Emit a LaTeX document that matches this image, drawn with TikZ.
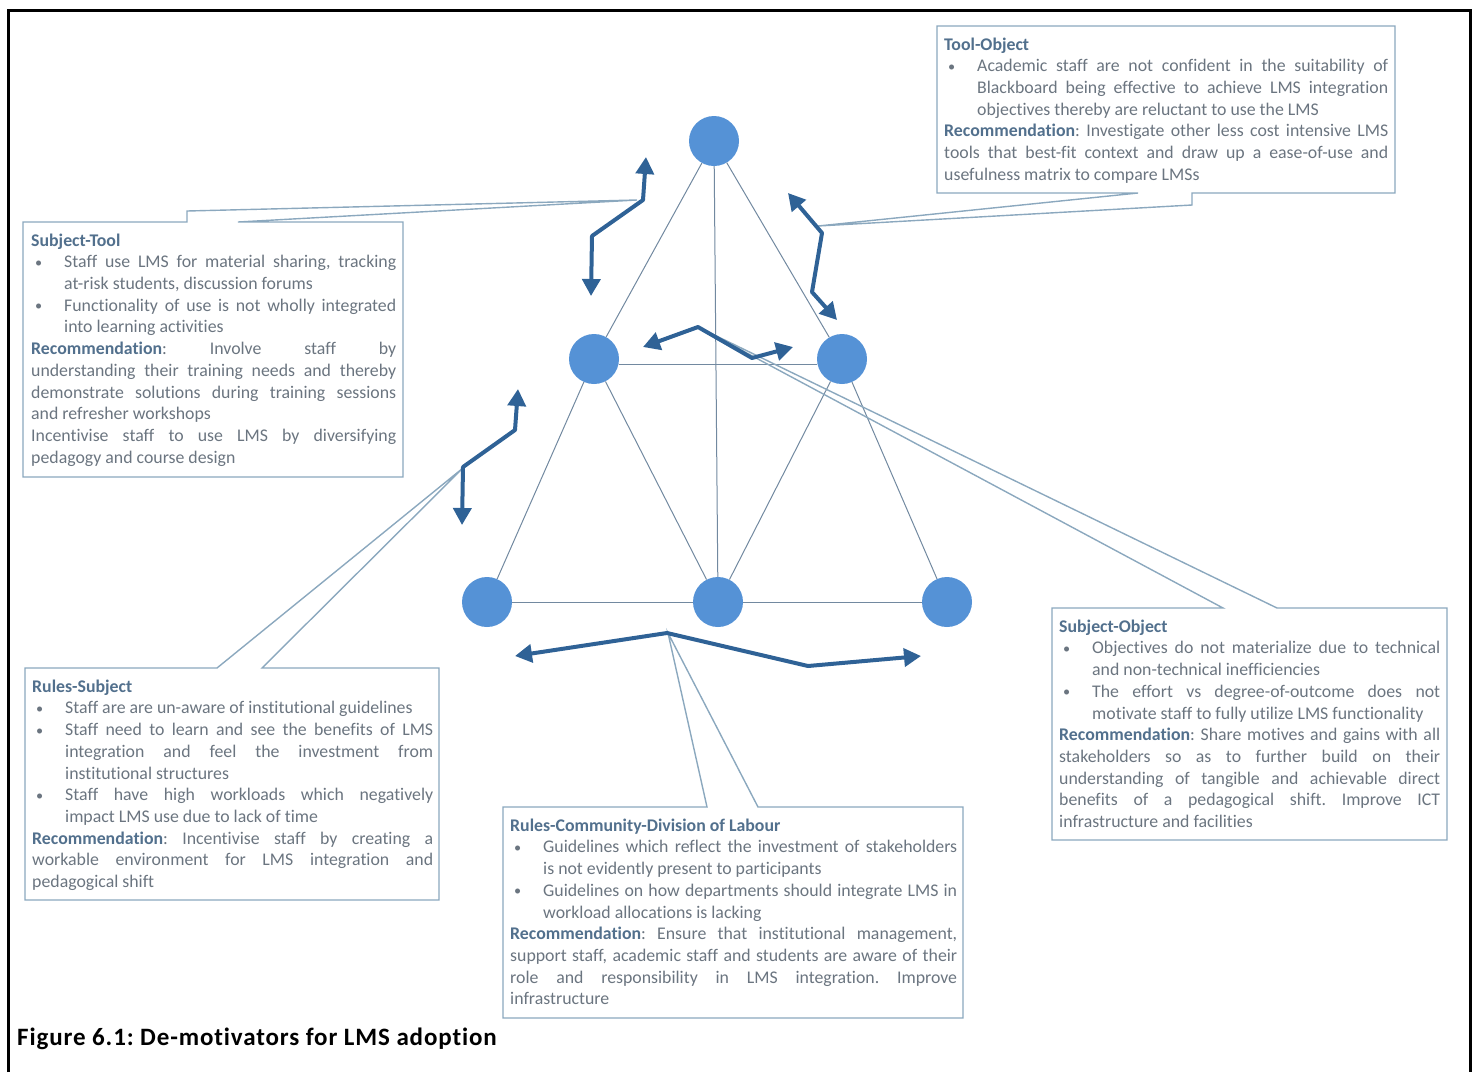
\documentclass[tikz,border=0pt]{standalone}
\usepackage{fontspec}
\setmainfont[Ligatures=NoCommon]{Carlito}
\usetikzlibrary{arrows.meta,calc}

\definecolor{dotblue}{HTML}{5592D6}
\definecolor{arrowblue}{HTML}{2F6296}
\definecolor{edgegray}{HTML}{7289A0}
\definecolor{boxline}{HTML}{8BA8BE}
\definecolor{bodytext}{HTML}{6B7580}
\definecolor{headtext}{HTML}{52708D}

\newcommand{\bodyfont}{\fontsize{17.8}{21.7}\selectfont}
\newcommand{\hd}[1]{\textbf{\color{headtext}#1}}
\newcommand{\bitem}[1]{\par\hangindent=33pt\hangafter=1\noindent\makebox[33pt][l]{\hspace{4pt}\raisebox{0.5pt}{\scalebox{0.8}{\textbullet}}}#1\par}

\setlength{\parindent}{0pt}
\setlength{\parskip}{0pt}
\hyphenpenalty=10000
\exhyphenpenalty=10000
\hbadness=10000
\hfuzz=20pt
\frenchspacing

\tikzset{
  dot/.style={circle,fill=dotblue,minimum size=50pt,inner sep=0pt,draw=none},
  edge/.style={draw=edgegray,line width=1pt},
  dblarrow/.style={draw=arrowblue,line width=4pt,line join=round,
    arrows={Triangle[length=17pt,width=18pt]-Triangle[length=17pt,width=18pt]}},
  callout/.style={draw=boxline,line width=1.4pt,line join=miter},
  calltext/.style={anchor=north west,inner sep=0pt,align=justify,text=bodytext,font=\bodyfont},
}

\begin{document}
\begin{tikzpicture}[x=1pt,y=-1pt]
\useasboundingbox (0,0) rectangle (1475,1072);

% page frame (open at the bottom)
\draw[line width=3pt] (8.5,1072) -- (8.5,10) -- (1470,10) -- (1470,1072);

% activity-system nodes
\node[dot] (top) at (714,141) {};
\node[dot] (ml)  at (594,359) {};
\node[dot] (mr)  at (842,359) {};
\node[dot] (bl)  at (487,602) {};
\node[dot] (bm)  at (718,602) {};
\node[dot] (br)  at (947,602) {};

% triangle edges
\draw[edge] (top) -- (ml);
\draw[edge] (top) -- (mr);
\draw[edge] (top) -- (bm);
\draw[edge] ([yshift=-5pt]ml.east) -- ([yshift=-5pt]mr.west);
\draw[edge] (ml) -- (bl);
\draw[edge] (ml) -- (bm);
\draw[edge] (mr) -- (bm);
\draw[edge] (mr) -- (br);
\draw[edge] (bl) -- (bm);
\draw[edge] (bm) -- (br);

% callout anchor points
\coordinate (stApex) at (637,200);
\coordinate (toApex) at (818,226);
\coordinate (soApex) at (700,328);
\coordinate (rsApex) at (463,468);
\coordinate (rcApex) at (668,633);

% callout boxes: white body, outline with wedge
\fill[white] (23,222) rectangle (403,477);
\draw[callout] (187,222) -- (23,222) -- (23,477) -- (403,477) -- (403,222) -- (238,222) -- (stApex) -- (187,211) -- cycle;

\fill[white] (937,26) rectangle (1395,193);
\draw[callout] (1138,193) -- (937,193) -- (937,26) -- (1395,26) -- (1395,193) -- (1192,193) -- (1192,205) -- (toApex) -- cycle;

\fill[white] (1052,608) rectangle (1447,840);
\draw[callout] (1223,608) -- (1052,608) -- (1052,840) -- (1447,840) -- (1447,608) -- (1277,608) -- (soApex) -- cycle;

\fill[white] (25,668) rectangle (439,900);
\draw[callout] (217,668) -- (25,668) -- (25,900) -- (439,900) -- (439,668) -- (262,668) -- (rsApex) -- cycle;

\fill[white] (503,807) rectangle (963,1018);
\draw[callout] (707,807) -- (503,807) -- (503,1018) -- (963,1018) -- (963,807) -- (758,807) -- (rcApex) -- cycle;

% callout texts
\node[calltext,text width=444pt] (toText) at (944,34.8) {\strut\hd{Tool-Object}\par
\bitem{Academic staff are not confident in the suitability of\linebreak Blackboard being effective to achieve LMS integration\linebreak objectives thereby are reluctant to use the LMS}
\hd{Recommendation}: Investigate other less cost intensive LMS\linebreak tools that best-fit context and draw up a ease-of-use and\linebreak usefulness matrix to compare LMSs};

\node[calltext,text width=365pt] (stText) at (31,230.8) {\strut\hd{Subject-Tool}\par
\bitem{Staff use LMS for material sharing, tracking\linebreak at-risk students, discussion forums}
\bitem{Functionality of use is not wholly integrated\linebreak into learning activities}
\hd{Recommendation}: Involve staff by\linebreak understanding their training needs and thereby\linebreak demonstrate solutions during training sessions\linebreak and refresher workshops\par
Incentivise staff to use LMS by diversifying\linebreak pedagogy and course design};

\node[calltext,text width=381pt] (soText) at (1059,616.8) {\strut\hd{Subject-Object}\par
\bitem{Objectives do not materialize due to technical\linebreak and non-technical inefficiencies}
\bitem{The effort vs degree-of-outcome does not\linebreak motivate staff to fully utilize LMS functionality}
\hd{Recommendation}: Share motives and gains with all\linebreak stakeholders so as to further build on their\linebreak understanding of tangible and achievable direct\linebreak benefits of a pedagogical shift. Improve ICT\linebreak infrastructure and facilities};

\node[calltext,text width=401pt] (rsText) at (32,676.8) {\strut\hd{Rules-Subject}\par
\bitem{Staff are are un-aware of institutional guidelines}
\bitem{Staff need to learn and see the benefits of LMS\linebreak integration and feel the investment from\linebreak institutional structures}
\bitem{Staff have high workloads which negatively\linebreak impact LMS use due to lack of time}
\hd{Recommendation}: Incentivise staff by creating a\linebreak workable environment for LMS integration and\linebreak pedagogical shift};

\node[calltext,text width=447pt] (rcText) at (510,815.8) {\strut\hd{Rules-Community-Division of Labour}\par
\bitem{Guidelines which reflect the investment of stakeholders\linebreak is not evidently present to participants}
\bitem{Guidelines on how departments should integrate LMS in\linebreak workload allocations is lacking}
\hd{Recommendation}: Ensure that institutional management,\linebreak support staff, academic staff and students are aware of their\linebreak role and responsibility in LMS integration. Improve\linebreak infrastructure};

% tension arrows
\coordinate (a1s) at (646,157);
\coordinate (a1b) at (643,200);
\coordinate (a1c) at (592,236);
\coordinate (a1e) at (591,296);
\draw[dblarrow] (a1s) -- (a1b) -- (a1c) -- (a1e);

\coordinate (a2s) at (788,193);
\coordinate (a2b) at (822,233);
\coordinate (a2c) at (812,292);
\coordinate (a2e) at (837,320);
\draw[dblarrow] (a2s) -- (a2b) -- (a2c) -- (a2e);

\coordinate (a3s) at (643,347);
\coordinate (a3b) at (698,327);
\coordinate (a3c) at (752,358);
\coordinate (a3e) at (793,347);
\draw[dblarrow] (a3s) -- (a3b) -- (a3c) -- (a3e);

\coordinate (a4s) at (518,389);
\coordinate (a4b) at (515,430);
\coordinate (a4c) at (463,467);
\coordinate (a4e) at (462,525);
\draw[dblarrow] (a4s) -- (a4b) -- (a4c) -- (a4e);

\coordinate (a5s) at (515,656);
\coordinate (a5b) at (667,633);
\coordinate (a5c) at (808,666);
\coordinate (a5e) at (921,656);
\draw[dblarrow] (a5s) -- (a5b) -- (a5c) -- (a5e);

% caption
\node[anchor=base west,inner sep=0pt,font=\bfseries\fontsize{25}{29}\selectfont\addfontfeature{LetterSpace=3.5}] (caption) at (17,1045) {Figure 6.1: De-motivators for LMS adoption};
\end{tikzpicture}
\end{document}
